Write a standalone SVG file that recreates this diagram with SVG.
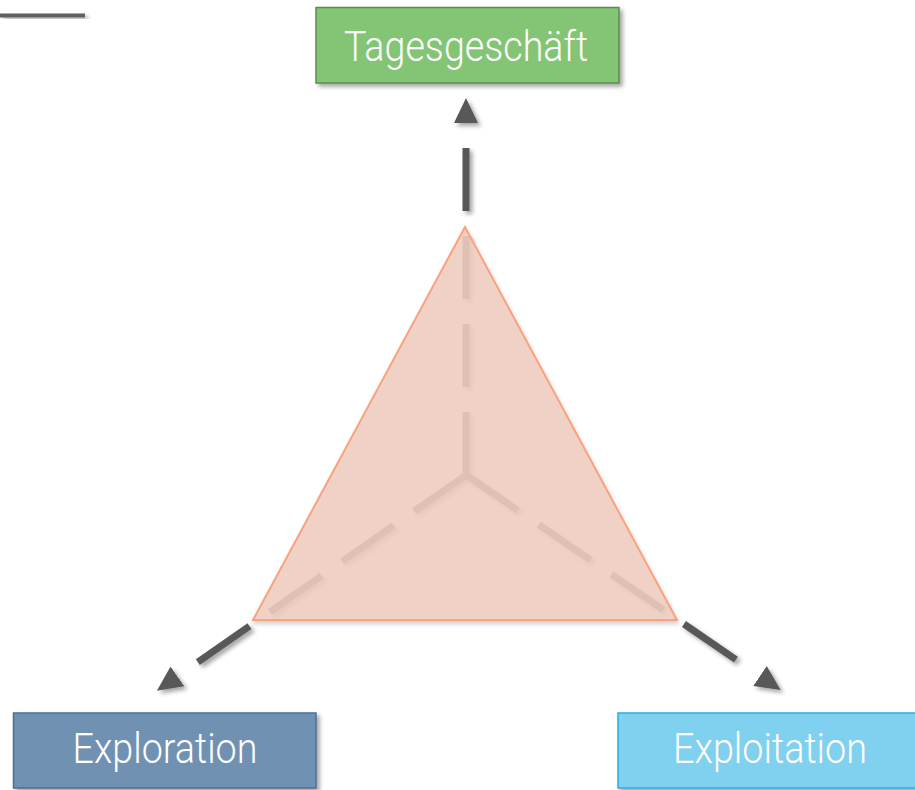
<svg xmlns="http://www.w3.org/2000/svg" width="915" height="790" viewBox="0 0 915 790">
  <defs>
    <filter id="shadow" x="-20%" y="-20%" width="140%" height="150%">
      <feDropShadow dx="3" dy="3" stdDeviation="2.2" flood-color="#000" flood-opacity="0.35"/>
    </filter>
    <filter id="softShadow" x="-10%" y="-10%" width="120%" height="130%">
      <feDropShadow dx="1" dy="3" stdDeviation="2" flood-color="#000" flood-opacity="0.2"/>
    </filter>
    <marker id="arrow" markerUnits="userSpaceOnUse" markerWidth="26" markerHeight="24" refX="0" refY="12" orient="auto">
      <path d="M0,0 L25,12 L0,24 Z" fill="#595959"/>
    </marker>
  </defs>
  <style>
    .conn { stroke: #595959; stroke-width: 7; stroke-dasharray: 63 25 63 25 63 25 63 200; fill: none; marker-end: url(#arrow); }
    .box { stroke-width: 1.5; filter: url(#shadow); }
    .label { font-family: Roboto, "Liberation Sans", sans-serif; font-weight: 300; font-size: 42px; fill: #ffffff; text-anchor: middle; }
  </style>

  <rect x="0" y="13.5" width="85" height="4" fill="#5f5f5f" filter="url(#shadow)"/>

  <g id="connectors" filter="url(#shadow)">
    <line class="conn" x1="466" y1="475" x2="466" y2="123"/>
    <line class="conn" x1="466" y1="475" x2="177.4" y2="676.4"/>
    <line class="conn" x1="466" y1="475" x2="760" y2="676"/>
  </g>

  <g id="triangle" filter="url(#softShadow)">
    <polygon points="465,227 253,620 677,620" fill="#f0cec1" fill-opacity="0.88" stroke="#f9a27e" stroke-width="2" stroke-linejoin="miter"/>
  </g>

  <g id="tagesgeschaeft">
    <rect class="box" x="316" y="7.5" width="303" height="75.5" fill="#84c574" stroke="#578f4a"/>
    <text class="label" x="466" y="61" textLength="244" lengthAdjust="spacingAndGlyphs">Tagesgeschäft</text>
  </g>

  <g id="exploration">
    <rect class="box" x="13.5" y="713" width="302.5" height="75" fill="#7091b2" stroke="#4e6f92"/>
    <text class="label" x="165" y="763" textLength="185" lengthAdjust="spacingAndGlyphs">Exploration</text>
  </g>

  <g id="exploitation">
    <rect class="box" x="618" y="713" width="310" height="75" fill="#80d0ef" stroke="#2aaee0"/>
    <text class="label" x="770" y="763" textLength="194" lengthAdjust="spacingAndGlyphs">Exploitation</text>
  </g>
</svg>
